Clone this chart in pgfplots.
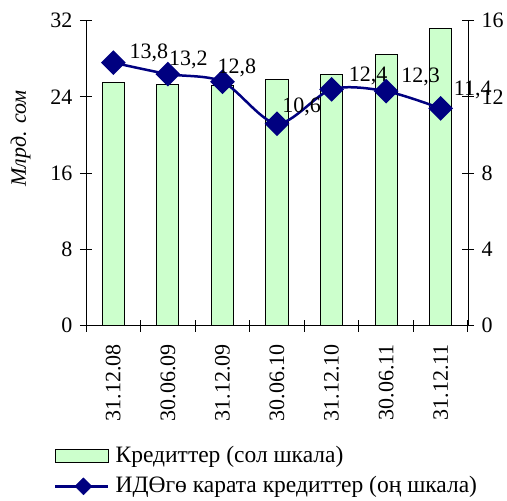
\documentclass[border=0pt]{standalone}
\usepackage{pgfplots}
\pgfplotsset{compat=1.18}
\usepackage{pgfplotstable}
\usepackage{fontspec}
\setmainfont{Liberation Serif}

\definecolor{barfill}{RGB}{204,255,204}
\definecolor{linenavy}{RGB}{0,0,128}

% credits, bn som (left axis)
\pgfplotstableread{
x lev
0 25.5
1 25.3
2 25.2
3 25.8
4 26.4
5 28.5
6 31.2
}\credits

% credits to GDP, % (right axis); dx/dy = label offset
\pgfplotstableread{
x ratio lbl dx dy
0 13.8 13,8 15 10
1 13.2 13,2 0 14
2 12.8 12,8 -6 14
3 10.6 10,6 4 17
4 12.4 12,4 16 13
5 12.3 12,3 14 14
6 11.4 11,4 12 18
}\ratio

\begin{document}
\fontsize{22}{26}\selectfont
\begin{tikzpicture}
\pgfplotsset{
  every axis/.append style={
    scale only axis, width=382pt, height=305pt,
    xmin=-0.5, xmax=6.5,
    tick align=center, major tick length=12pt, minor tick length=12pt,
    tick style={black, line width=1pt},
    axis line style={line width=1pt},
    /pgf/number format/assume math mode=true,
  }
}
\begin{axis}[
    name=ax,
    ymin=0, ymax=32, ytick={0,8,...,32},
    axis y line*=left, axis x line*=bottom,
    xtick={0,...,6},
    xticklabels={31.12.08,30.06.09,31.12.09,30.06.10,31.12.10,30.06.11,31.12.11},
    major x tick style={draw=none},
    minor xtick={-0.5,0.5,...,6.5},
    x tick label style={rotate=90, anchor=east},
    xticklabel shift=5pt,
    ylabel={\itshape Млрд. сом},
    every axis y label/.style={at={(axis description cs:0,0.614)}, xshift=-65.5pt, rotate=90, anchor=center},
]
\addplot[ybar, bar width=22pt, fill=barfill, draw=black, line width=1pt] table[x=x, y=lev] {\credits};
\end{axis}
\begin{axis}[
    ymin=0, ymax=16, ytick={0,4,...,16},
    axis y line*=right, axis x line=none,
    clip=false,
    legend style={at={(0,0)}, anchor=north west, xshift=-35pt, yshift=-116pt,
      draw=none, fill=none, legend cell align=left, row sep=7pt,
      font=\fontsize{23.5}{27}\selectfont,
      nodes={inner sep=2pt}},
]
\addlegendimage{legend image code/.code={
  \draw[fill=barfill, draw=black, line width=1pt] (0pt,-6.5pt) rectangle (53pt,6.5pt);
  \path (58pt,0pt);}}
\addlegendentry{Кредиттер (сол шкала)}
\addplot[linenavy, line width=2.5pt, smooth,
    mark=square*, mark size=7.5pt, mark options={rotate=45},
    nodes near coords, point meta=explicit symbolic,
    visualization depends on={\thisrow{dx} \as \dx},
    visualization depends on={\thisrow{dy} \as \dy},
    every node near coord/.append style={anchor=west, inner sep=0pt,
      xshift=\dx pt, yshift=\dy pt, text=black},
    forget plot,
] table[x=x, y=ratio, meta=lbl] {\ratio};
\addlegendimage{legend image code/.code={
  \draw[linenavy, line width=2.5pt] (0pt,0pt) -- (53pt,0pt);
  \fill[linenavy] (28pt,8.5pt) -- (36.5pt,0pt) -- (28pt,-8.5pt) -- (19.5pt,0pt) -- cycle;
  \path (58pt,0pt);}}
\addlegendentry{ИДӨгө карата кредиттер (оң шкала)}
\end{axis}
\pgfresetboundingbox
\path ([xshift=-86pt,yshift=-174.3pt]ax.south west) rectangle ([xshift=39pt,yshift=20.7pt]ax.north east);
\end{tikzpicture}
\end{document}
